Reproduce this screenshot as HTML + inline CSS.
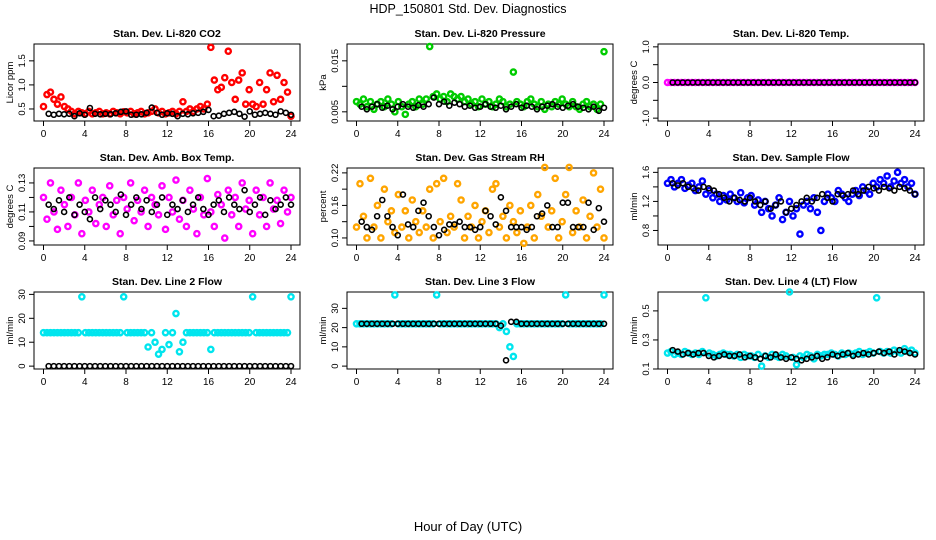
<!DOCTYPE html>
<html><head><meta charset="utf-8"><style>
body{margin:0;background:#fff;}
svg{display:block;font-family:"Liberation Sans",sans-serif;}
</style></head><body>
<svg id="c" width="936" height="540">
<text x="468" y="13" font-size="12.5" text-anchor="middle">HDP_150801  Std. Dev. Diagnostics</text>
<text x="468" y="531" font-size="13" text-anchor="middle">Hour of Day (UTC)</text>
</svg>
<script>
const xTicks=[0,4,8,12,16,20,24];
const titles=["Stan. Dev. Li-820 CO2","Stan. Dev. Li-820 Pressure","Stan. Dev. Li-820 Temp.","Stan. Dev. Amb. Box Temp.","Stan. Dev. Gas Stream RH","Stan. Dev. Sample Flow","Stan. Dev. Line 2 Flow","Stan. Dev. Line 3 Flow","Stan. Dev. Line 4 (LT) Flow"];
const yLabels=["Licor ppm","kPa","degrees C","degrees C","percent","ml/min","ml/min","ml/min","ml/min"];
const yLims=[[0.25,1.85],[0.0032,0.0183],[-1.08,1.08],[0.0872,0.1403],[0.087,0.229],[0.6,1.66],[-1.2,31],[-1.5,38.5],[0.1,0.63]];
const yTicks=[[0.5,1.0,1.5],[0.005,0.010,0.015],[-1.0,-0.5,0.0,0.5,1.0],[0.09,0.10,0.11,0.12,0.13],[0.10,0.13,0.16,0.19,0.22],[0.8,1.0,1.2,1.4,1.6],[0,10,20,30],[0,10,20,30],[0.1,0.3,0.5]];
const yTickText=[["0.5","1.0","1.5"],["0.005","","0.015"],["-1.0","","0.0","","1.0"],["0.09","","0.11","","0.13"],["0.10","","0.16","","0.22"],["0.8","","1.2","","1.6"],["0","10","20","30"],["0","10","20","30"],["0.1","0.3","0.5"]];
const colors=["#ff0000","#00cc00","#ff00ff","#ff00ff","#ffa500","#0000ff","#00e5ee","#00e5ee","#00e5ee"];
const colorVals=[
[0.55,0.8,0.85,0.7,0.6,0.75,0.55,0.5,0.45,0.4,0.45,0.42,0.4,0.45,0.4,0.42,0.45,0.4,0.42,0.4,0.45,0.42,0.4,0.44,0.42,0.45,0.4,0.42,0.45,0.4,0.42,0.45,0.5,0.42,0.45,0.4,0.42,0.45,0.4,0.45,0.65,0.45,0.5,0.45,0.5,0.55,0.5,0.6,1.78,1.1,0.9,0.95,1.15,1.7,1.05,0.7,1.1,1.25,0.6,0.9,0.6,0.55,1.05,0.6,0.9,1.25,0.65,1.2,0.7,1.05,0.85,0.35],
[0.007,0.0065,0.0075,0.006,0.007,0.0055,0.0065,0.007,0.006,0.0075,0.0065,0.005,0.007,0.006,0.0045,0.0065,0.007,0.006,0.0075,0.0065,0.0075,0.0178,0.008,0.0085,0.0075,0.008,0.007,0.0085,0.008,0.0075,0.008,0.007,0.0075,0.0065,0.007,0.006,0.0075,0.0065,0.007,0.006,0.0065,0.0075,0.007,0.006,0.0065,0.0128,0.007,0.0065,0.006,0.007,0.0075,0.0065,0.006,0.007,0.0055,0.0065,0.006,0.007,0.0065,0.0075,0.0065,0.006,0.007,0.006,0.0055,0.0065,0.007,0.006,0.0065,0.0055,0.0065,0.0168],
[0,0,0,0,0,0,0,0,0,0,0,0,0,0,0,0,0,0,0,0,0,0,0,0,0,0,0,0,0,0,0,0,0,0,0,0,0,0,0,0,0,0,0,0,0,0,0,0,0,0,0,0,0,0,0,0,0,0,0,0,0,0,0,0,0,0,0,0,0,0,0,0],
[0.12,0.105,0.13,0.11,0.098,0.125,0.115,0.1,0.12,0.108,0.13,0.095,0.118,0.11,0.125,0.102,0.115,0.12,0.1,0.128,0.108,0.118,0.095,0.12,0.112,0.13,0.104,0.118,0.11,0.125,0.1,0.12,0.115,0.108,0.128,0.098,0.12,0.11,0.132,0.105,0.118,0.1,0.125,0.112,0.095,0.12,0.108,0.133,0.11,0.1,0.122,0.115,0.092,0.125,0.108,0.12,0.1,0.13,0.112,0.118,0.095,0.125,0.108,0.12,0.1,0.13,0.112,0.118,0.102,0.125,0.11,0.12],
[0.12,0.2,0.14,0.1,0.21,0.12,0.16,0.1,0.19,0.13,0.15,0.11,0.18,0.12,0.15,0.1,0.17,0.13,0.11,0.15,0.12,0.19,0.1,0.2,0.13,0.21,0.11,0.14,0.12,0.2,0.17,0.1,0.14,0.12,0.16,0.1,0.13,0.15,0.11,0.19,0.2,0.12,0.14,0.1,0.16,0.13,0.11,0.15,0.09,0.12,0.16,0.1,0.18,0.14,0.23,0.12,0.15,0.21,0.1,0.13,0.18,0.23,0.11,0.15,0.12,0.17,0.1,0.14,0.22,0.12,0.19,0.1],
[1.45,1.5,1.4,1.45,1.5,1.38,1.42,1.45,1.35,1.4,1.48,1.3,1.35,1.25,1.3,1.2,1.28,1.22,1.3,1.25,1.2,1.32,1.18,1.25,1.28,1.15,1.22,1.05,1.2,1.1,1.0,1.15,1.25,0.95,1.05,1.2,1.0,1.1,0.75,1.15,1.2,1.1,1.25,1.05,0.8,1.2,1.3,1.25,1.2,1.35,1.3,1.25,1.2,1.3,1.35,1.28,1.4,1.35,1.3,1.45,1.4,1.5,1.45,1.55,1.4,1.48,1.6,1.45,1.5,1.4,1.45,1.3],
[14,14,14,14,14,14,14,14,14,14,14,29,14,14,14,14,14,14,14,14,14,14,14,29,14,14,14,14,14,14,8,14,10,5,7,14,9,14,22,6,10,14,14,14,14,14,14,14,7,14,14,14,14,14,14,14,14,14,14,14,29,14,14,14,14,14,14,14,14,14,14,29],
[22,22,22,22,22,22,22,22,22,22,22,37,22,22,22,22,22,22,22,22,22,22,22,37,22,22,22,22,22,22,22,22,22,22,22,22,22,22,22,22,22,20,22,18,10,5,22,22,22,22,22,22,22,22,22,22,22,22,22,22,37,22,22,22,22,22,22,22,22,22,22,37],
[0.21,0.22,0.2,0.21,0.2,0.22,0.21,0.2,0.21,0.2,0.22,0.59,0.21,0.2,0.19,0.2,0.21,0.2,0.2,0.19,0.2,0.18,0.2,0.19,0.19,0.18,0.2,0.12,0.19,0.18,0.2,0.19,0.18,0.2,0.19,0.63,0.18,0.13,0.19,0.18,0.2,0.19,0.17,0.2,0.19,0.2,0.2,0.21,0.2,0.19,0.21,0.2,0.21,0.2,0.21,0.22,0.2,0.21,0.22,0.21,0.59,0.22,0.21,0.22,0.21,0.23,0.22,0.21,0.24,0.22,0.23,0.21]
];
const baseVals=[
[0.4,0.38,0.4,0.39,0.4,0.35,0.41,0.38,0.52,0.4,0.39,0.4,0.39,0.41,0.44,0.45,0.38,0.38,0.39,0.42,0.53,0.42,0.38,0.41,0.4,0.35,0.4,0.39,0.41,0.42,0.44,0.48,0.35,0.36,0.4,0.42,0.44,0.4,0.34,0.45,0.38,0.4,0.42,0.4,0.38,0.45,0.42,0.38],
[0.006,0.0055,0.006,0.0065,0.0058,0.0062,0.0055,0.006,0.0065,0.006,0.0058,0.0063,0.006,0.0065,0.0078,0.0065,0.007,0.0062,0.0068,0.0065,0.006,0.0062,0.0058,0.006,0.0065,0.006,0.0058,0.0062,0.0055,0.006,0.0065,0.0058,0.0062,0.006,0.0055,0.006,0.0062,0.0065,0.006,0.0058,0.0062,0.0065,0.006,0.0058,0.0055,0.006,0.0052,0.0058],
[0,0,0,0,0,0,0,0,0,0,0,0,0,0,0,0,0,0,0,0,0,0,0,0,0,0,0,0,0,0,0,0,0,0,0,0,0,0,0,0,0,0,0,0,0,0,0,0,0],
[0.115,0.112,0.118,0.11,0.12,0.108,0.115,0.11,0.105,0.12,0.112,0.118,0.115,0.11,0.122,0.108,0.115,0.12,0.112,0.118,0.11,0.115,0.12,0.108,0.115,0.112,0.118,0.11,0.115,0.12,0.112,0.108,0.115,0.118,0.11,0.12,0.115,0.112,0.125,0.11,0.115,0.12,0.108,0.118,0.112,0.115,0.12,0.115],
[0.13,0.12,0.115,0.14,0.17,0.14,0.12,0.105,0.18,0.125,0.12,0.15,0.165,0.14,0.12,0.105,0.115,0.125,0.125,0.13,0.12,0.12,0.115,0.12,0.15,0.14,0.125,0.175,0.15,0.12,0.12,0.12,0.115,0.12,0.14,0.145,0.16,0.12,0.12,0.165,0.165,0.12,0.12,0.12,0.165,0.115,0.155,0.13],
[1.45,1.42,1.45,1.4,1.38,1.35,1.4,1.38,1.35,1.3,1.25,1.2,1.25,1.22,1.2,1.25,1.2,1.15,1.2,1.1,1.15,1.2,1.05,1.1,1.15,1.2,1.25,1.2,1.25,1.3,1.25,1.2,1.3,1.28,1.3,1.35,1.3,1.35,1.4,1.38,1.35,1.4,1.38,1.35,1.4,1.38,1.35,1.3],
[0,0,0,0,0,0,0,0,0,0,0,0,0,0,0,0,0,0,0,0,0,0,0,0,0,0,0,0,0,0,0,0,0,0,0,0,0,0,0,0,0,0,0,0,0,0,0,0],
[22,22,22,22,22,22,22,22,22,22,22,22,22,22,22,22,22,22,22,22,22,22,22,22,22,22,22,21,3,23,23,22,22,22,22,22,22,22,22,22,22,22,22,22,22,22,22,22],
[0.23,0.22,0.2,0.21,0.2,0.21,0.21,0.19,0.18,0.19,0.2,0.19,0.19,0.2,0.18,0.19,0.18,0.17,0.19,0.18,0.2,0.18,0.17,0.18,0.17,0.16,0.17,0.18,0.19,0.17,0.18,0.2,0.19,0.2,0.21,0.19,0.2,0.21,0.2,0.21,0.22,0.21,0.22,0.2,0.23,0.22,0.21,0.2]
];
const svg=document.getElementById('c');
const NS='http://www.w3.org/2000/svg';
function mk(tag,attrs,parent){const e=document.createElementNS(NS,tag);for(const k in attrs)e.setAttribute(k,attrs[k]);(parent||svg).appendChild(e);return e;}
const colLeft=[34,347,658],rowTop=[44,168,292],W=266,H=77;
for(let p=0;p<9;p++){
 const L=colLeft[p%3],T=rowTop[Math.floor(p/3)],B=T+H;
 const g=mk('g',{});
 
 
 const xs=h=>L+9.5+h*(247.5/24);
 const [y0,y1]=yLims[p];
 const ys=v=>B-(v-y0)/(y1-y0)*H;
 const t=mk('text',{x:L+W/2,y:T-7,'font-size':10.5,'font-weight':'bold','text-anchor':'middle'},g);t.textContent=titles[p];
 
 
 const bx=mk('rect',{x:L,y:T,width:W,height:H,fill:'none',stroke:'#000','stroke-width':1},g);
 
 
 xTicks.forEach(h=>{const x=xs(h);mk('line',{x1:x,x2:x,y1:B,y2:B+5,stroke:'#000'},g);
  const tt=mk('text',{x:x,y:B+16,'font-size':10,'text-anchor':'middle'},g);tt.textContent=h;
  
  });
 yTicks[p].forEach((v,i)=>{const y=ys(v);mk('line',{x1:L-5,x2:L,y1:y,y2:y,stroke:'#000'},g);
  const tt=mk('text',{x:L-9,y:y,'font-size':9.5,'text-anchor':'middle',transform:`rotate(-90 ${L-9} ${y})`},g);tt.textContent=yTickText[p][i];
  
  });
 const yl=mk('text',{x:L-21,y:T+H/2,'font-size':9.5,'text-anchor':'middle',transform:`rotate(-90 ${L-21} ${T+H/2})`},g);yl.textContent=yLabels[p];
 
 
 const cv=colorVals[p];
 cv.forEach((v,i)=>{const h=i*24/(cv.length-1);
  const c=mk('circle',{cx:xs(h),cy:ys(v),r:2.6,fill:'none',stroke:colors[p],'stroke-width':2.4},g);
  
  });
 const bv=baseVals[p];
 bv.forEach((v,i)=>{const h=0.5+i*23.5/(bv.length-1);
  const c=mk('circle',{cx:xs(h),cy:ys(v),r:2.5,fill:'none',stroke:'#000','stroke-width':1.6},g);
  
  });
}
</script>
</body></html>
